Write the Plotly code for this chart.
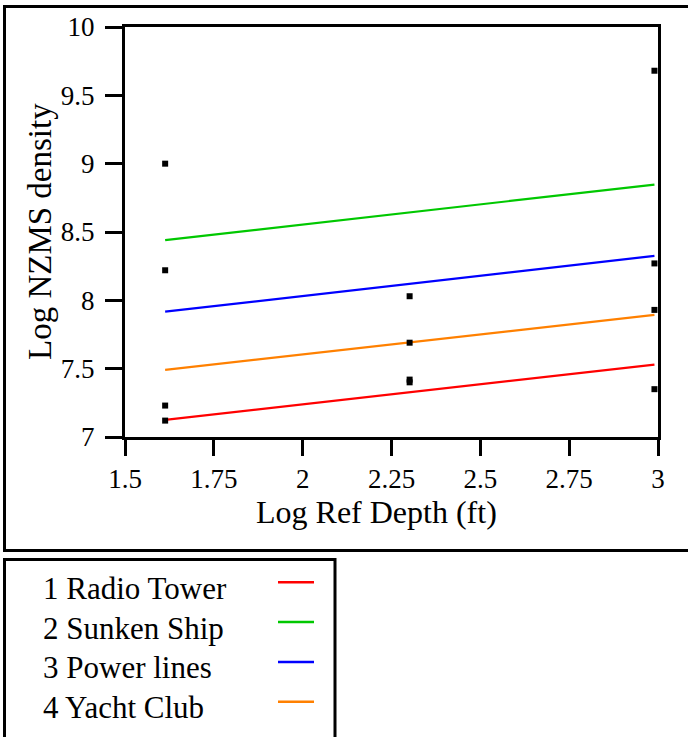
import plotly.graph_objects as go

# ---- data ----
sites = ["1 Radio Tower", "2 Sunken Ship", "3 Power lines", "4 Yacht Club"]
site_colors = ["#ff0000", "#00c800", "#0000ff", "#ff8000"]
fit_x = [1.613, 2.99]
fit_start = [7.125, 8.44, 7.917, 7.491]
fit_end = [7.53, 8.847, 8.325, 7.894]

pt_x = [1.613, 1.613, 1.613, 1.613, 2.301, 2.301, 2.301, 2.301, 2.99, 2.99, 2.99, 2.99]
pt_y = [9.00, 8.22, 7.23, 7.12, 8.03, 7.69, 7.42, 7.40, 9.68, 8.27, 7.93, 7.35]

x_ticks = [1.5, 1.75, 2, 2.25, 2.5, 2.75, 3]
x_tick_labels = ["1.5", "1.75", "2", "2.25", "2.5", "2.75", "3"]
y_ticks = [7, 7.5, 8, 8.5, 9, 9.5, 10]
y_tick_labels = ["7", "7.5", "8", "8.5", "9", "9.5", "10"]

# ---- layout geometry (pixels) ----
W, H = 688, 737
L, R, T, B = 125, 30, 25, 300
PW, PH = W - L - R, H - T - B

def px(x):
    return (x - L) / PW

def py(y):
    return (H - B - y) / PH

FONT = "Liberation Serif"

fig = go.Figure()
for name, col, y0, y1 in zip(sites, site_colors, fit_start, fit_end):
    fig.add_trace(go.Scatter(x=fit_x, y=[y0, y1], mode="lines", name=name,
                             line=dict(color=col, width=2.2), showlegend=False,
                             cliponaxis=False))
fig.add_trace(go.Scatter(x=pt_x, y=pt_y, mode="markers",
                         marker=dict(symbol="square", size=6, color="black"),
                         showlegend=False, cliponaxis=False))

shapes = []
# outer frame
shapes.append(dict(type="rect", xref="paper", yref="paper",
                   x0=px(4.5), x1=px(700), y0=py(4.5), y1=py(551),
                   line=dict(color="black", width=3), fillcolor="rgba(0,0,0,0)"))
# legend frame
shapes.append(dict(type="rect", xref="paper", yref="paper",
                   x0=px(4.5), x1=px(335), y0=py(560), y1=py(760),
                   line=dict(color="black", width=3), fillcolor="rgba(0,0,0,0)"))

annotations = []
legend_y = [589, 629, 669, 709]
line_y = [583, 623, 663, 703]
for name, col, ty, ly in zip(sites, site_colors, legend_y, line_y):
    annotations.append(dict(text=name, xref="paper", yref="paper", x=px(41), y=py(ty),
                            xanchor="left", yanchor="middle", showarrow=False,
                            font=dict(family=FONT, size=31, color="black")))
    shapes.append(dict(type="line", xref="paper", yref="paper",
                       x0=px(278), x1=px(314), y0=py(ly), y1=py(ly),
                       line=dict(color=col, width=2.5)))

annotations.append(dict(text="Log Ref Depth (ft)", xref="paper", yref="paper",
                        x=px(376), y=py(512), xanchor="center", yanchor="middle",
                        showarrow=False, font=dict(family=FONT, size=32, color="black")))
annotations.append(dict(text="Log NZMS density", xref="paper", yref="paper",
                        x=px(40), y=py(231), xanchor="center", yanchor="middle",
                        textangle=-90, showarrow=False,
                        font=dict(family=FONT, size=33, color="black")))

fig.update_layout(
    width=W, height=H,
    margin=dict(l=L, r=R, t=T, b=B, pad=0),
    paper_bgcolor="white", plot_bgcolor="white",
    shapes=shapes, annotations=annotations,
    font=dict(family=FONT, color="black"),
    xaxis=dict(range=[1.5, 3], tickvals=x_ticks, ticktext=x_tick_labels,
               showgrid=False, zeroline=False, showline=True, linewidth=3,
               linecolor="black", mirror=True, ticks="outside", ticklen=16,
               tickwidth=3, tickcolor="black",
               tickfont=dict(family=FONT, size=27, color="black")),
    yaxis=dict(range=[7, 10], tickvals=y_ticks, ticktext=y_tick_labels,
               showgrid=False, zeroline=False, showline=True, linewidth=3,
               linecolor="black", mirror=True, ticks="outside", ticklen=17,
               tickwidth=3, tickcolor="black", ticklabelstandoff=5,
               tickfont=dict(family=FONT, size=27, color="black")),
)

fig.write_html("out.html", config={"displayModeBar": False},
               post_script="document.body.style.margin='0';document.body.style.padding='0';")
